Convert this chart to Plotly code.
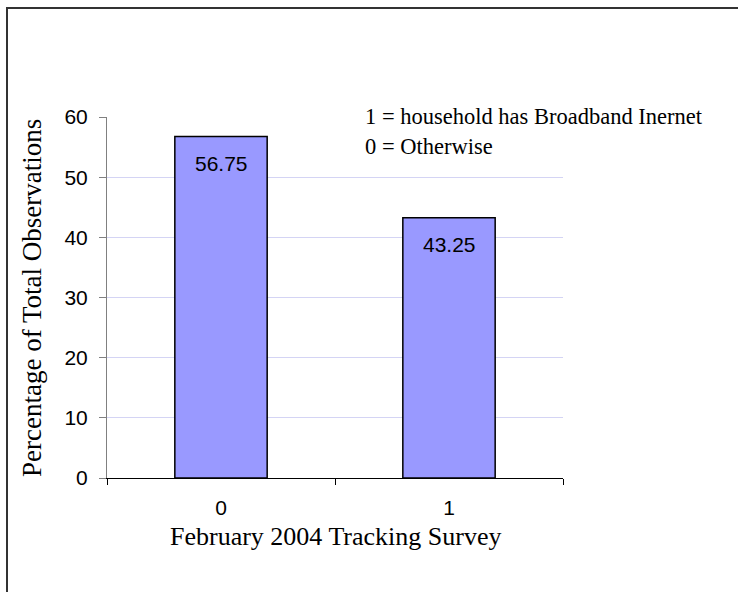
import plotly.graph_objects as go

# Survey categories and their share of total observations (%)
categories = ["0", "1"]
percentages = [56.75, 43.25]
y_ticks = [0, 10, 20, 30, 40, 50, 60]
legend_lines = ["1 = household has Broadband Inernet", "0 = Otherwise"]

W, H = 738, 592
L, R, T, B = 107, 175, 117, 114
plot_w = W - L - R
plot_h = H - T - B


def px_x(px):
    return (px - L) / plot_w


def px_y(py):
    return (H - B - py) / plot_h


serif = "Liberation Serif, Times New Roman, serif"
sans = "Liberation Sans, Arial, sans-serif"

fig = go.Figure()
fig.add_trace(go.Bar(
    x=categories,
    y=percentages,
    width=0.405,
    marker=dict(color="#9999FF", line=dict(color="#000000", width=1.5)),
    hoverinfo="skip",
))

# value labels inside each bar, just below its top
for c, v in zip(categories, percentages):
    fig.add_annotation(
        x=c, y=v, xref="x", yref="y",
        text=f"{v:.2f}", showarrow=False,
        yanchor="middle", yshift=-27,
        font=dict(family=sans, size=21, color="#000000"),
    )

# key explaining the category codes
for i, line in enumerate(legend_lines):
    fig.add_annotation(
        x=px_x(363), y=px_y(116 + 30 * i), xref="paper", yref="paper",
        text=line, showarrow=False, xanchor="left", yanchor="middle",
        font=dict(family=serif, size=22.5, color="#000000"),
    )

# axis titles
fig.add_annotation(
    x=px_x(335), y=px_y(536), xref="paper", yref="paper",
    text="February 2004 Tracking Survey", showarrow=False,
    xanchor="center", yanchor="middle",
    font=dict(family=serif, size=26, color="#000000"),
)
fig.add_annotation(
    x=px_x(32), y=px_y(298), xref="paper", yref="paper",
    text="Percentage of Total Observations", showarrow=False, textangle=-90,
    xanchor="center", yanchor="middle",
    font=dict(family=serif, size=27, color="#000000"),
)

# outer frame
fig.add_shape(
    type="rect", xref="paper", yref="paper",
    x0=px_x(7), x1=px_x(760), y0=px_y(620), y1=px_y(8),
    line=dict(color="#333333", width=2), fillcolor="rgba(0,0,0,0)",
)

fig.update_layout(
    width=W, height=H,
    margin=dict(l=L, r=R, t=T, b=B, pad=0),
    paper_bgcolor="#ffffff", plot_bgcolor="#ffffff",
    showlegend=False,
    xaxis=dict(
        type="category", range=[-0.5, 1.5],
        tickson="boundaries", ticks="outside", ticklen=6, tickwidth=1,
        tickcolor="#000000", showline=True, linecolor="#000000", linewidth=1,
        showgrid=False, zeroline=False,
        tickfont=dict(family=sans, size=21, color="#000000"),
        ticklabelstandoff=11,
    ),
    yaxis=dict(
        range=[0, 60], tickvals=y_ticks,
        ticks="outside", ticklen=7, tickwidth=1, tickcolor="#808080",
        showline=True, linecolor="#808080", linewidth=1,
        showgrid=True, gridcolor="#D4D4F4", gridwidth=1,
        zeroline=False,
        tickfont=dict(family=sans, size=21, color="#000000"),
        ticklabelstandoff=7,
    ),
)

fig.write_html("out.html")
